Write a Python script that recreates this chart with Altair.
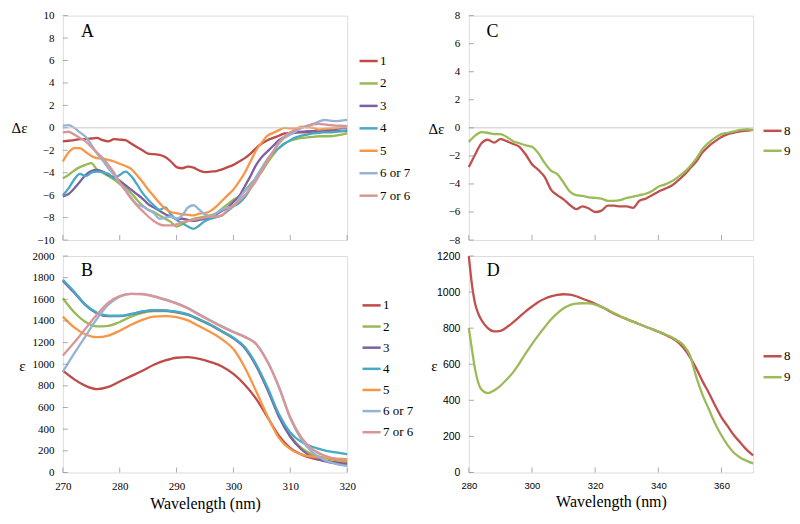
import altair as alt
import pandas as pd

# ---------------- Panel A : CD (delta epsilon), 270-320 nm, 1 nm steps
wl_a = list(range(270, 321))
cd_1 = [-1.2, -1.15, -1.1, -1.0, -1.0, -0.95, -0.9, -1.1, -1.2, -1.0,
        -1.05, -1.1, -1.4, -1.7, -2.0, -2.3, -2.35, -2.4, -2.6, -3.0,
        -3.5, -3.6, -3.45, -3.55, -3.8, -3.95, -3.9, -3.85, -3.7, -3.5,
        -3.3, -3.0, -2.7, -2.3, -1.8, -1.4, -1.1, -0.9, -0.7, -0.5,
        -0.45, -0.4, -0.4, -0.4, -0.4, -0.35, -0.35, -0.3, -0.3, -0.3,
        -0.3]
cd_2 = [-4.5, -4.2, -3.8, -3.5, -3.3, -3.15, -3.7, -4.0, -4.3, -4.6,
        -5.0, -5.3, -5.8, -6.4, -6.9, -7.3, -7.5, -7.8, -8.1, -8.4,
        -8.8, -8.6, -8.3, -8.1, -8.0, -7.9, -7.8, -7.6, -7.2, -6.8,
        -6.4, -6.1, -5.6, -5.0, -4.5, -3.9, -3.1, -2.4, -1.8, -1.4,
        -1.15, -1.0, -0.9, -0.85, -0.8, -0.75, -0.75, -0.75, -0.7, -0.6,
        -0.5]
cd_3 = [-6.1, -5.9, -5.4, -4.8, -4.2, -3.85, -3.75, -3.9, -4.2, -4.4,
        -4.7, -5.1, -5.5, -5.9, -6.3, -6.8, -7.1, -7.4, -7.7, -7.9,
        -8.1, -8.1, -8.2, -8.3, -8.2, -8.1, -8.0, -7.7, -7.4, -7.1,
        -6.6, -6.1, -5.2, -4.3, -3.3, -2.6, -2.1, -1.6, -1.1, -0.8,
        -0.55, -0.4, -0.35, -0.3, -0.3, -0.25, -0.2, -0.15, -0.1, -0.05,
        0.0]
cd_4 = [-6.0, -5.4, -4.6, -4.1, -4.3, -4.0, -3.9, -3.95, -4.1, -4.5,
        -4.2, -3.9, -4.3, -5.0, -5.8, -6.4, -6.9, -7.3, -7.1, -7.7,
        -8.2, -8.5, -8.8, -9.0, -8.7, -8.3, -8.1, -7.95, -7.8, -7.4,
        -7.0, -6.7, -6.2, -5.4, -4.4, -3.6, -2.8, -2.2, -1.8, -1.4,
        -1.1, -0.85, -0.7, -0.6, -0.5, -0.45, -0.4, -0.4, -0.35, -0.3,
        -0.2]
cd_5 = [-3.0, -2.2, -1.8, -1.8, -2.15, -2.5, -2.7, -2.75, -2.85, -3.0,
        -3.2, -3.4, -3.65, -4.2, -4.8, -5.5, -6.1, -6.7, -7.2, -7.5,
        -7.6, -7.7, -7.75, -7.8, -7.65, -7.6, -7.4, -7.0, -6.5, -6.0,
        -5.5, -4.8, -4.0, -3.0, -2.0, -1.3, -0.7, -0.45, -0.2, 0.0,
        -0.05, -0.05, 0.1, 0.05, 0.0, -0.15, -0.1, -0.05, 0.0, 0.1,
        0.15]
cd_6 = [0.2, 0.25, 0.0, -0.4, -0.8, -1.5, -2.3, -2.9, -3.6, -4.2,
        -4.9, -5.5, -6.2, -6.8, -7.0, -7.3, -7.6, -8.1, -8.0, -7.9,
        -8.1, -7.8, -7.1, -6.9, -7.3, -7.7, -7.9, -7.6, -7.3, -7.1,
        -7.0, -6.3, -5.6, -5.2, -4.4, -3.6, -2.8, -2.1, -1.4, -0.9,
        -0.6, -0.3, 0.0, 0.2, 0.35, 0.55, 0.7, 0.65, 0.6, 0.65,
        0.7]
cd_7 = [-0.4, -0.35, -0.6, -0.9, -1.2, -1.7, -2.2, -2.7, -3.3, -4.0,
        -4.9, -5.6, -6.3, -6.9, -7.4, -7.9, -8.3, -8.6, -8.7, -8.7,
        -8.6, -8.4, -8.3, -8.2, -8.1, -8.0, -7.9, -7.9, -7.8, -7.3,
        -6.9, -6.5, -6.0, -5.4, -4.7, -3.8, -2.9, -2.1, -1.3, -0.75,
        -0.4, -0.15, 0.0, 0.15, 0.3, 0.35, 0.3, 0.25, 0.2, 0.2,
        0.15]

# ---------------- Panel B : UV (epsilon), 270-320 nm, 2 nm steps
wl_b = list(range(270, 321, 2))
uv_1 = [940, 860, 800, 770, 790, 840, 890, 940, 995, 1035, 1060, 1065, 1050,
        1020, 980, 910, 810, 680, 510, 340, 225, 165, 130, 110, 95, 85]
uv_2 = [1610, 1480, 1390, 1350, 1355, 1390, 1440, 1475, 1490, 1492, 1478, 1455, 1410,
        1360, 1300, 1240, 1150, 990, 770, 520, 340, 225, 165, 135, 115, 100]
uv_3 = [1770, 1660, 1545, 1470, 1445, 1445, 1462, 1485, 1497, 1495, 1482, 1458, 1412,
        1362, 1302, 1240, 1150, 985, 765, 515, 330, 210, 140, 105, 85, 75]
uv_4 = [1780, 1670, 1550, 1475, 1450, 1448, 1465, 1488, 1500, 1498, 1485, 1460, 1415,
        1365, 1305, 1245, 1160, 1000, 785, 540, 370, 280, 235, 205, 185, 170]
uv_5 = [1440, 1340, 1275, 1250, 1265, 1310, 1365, 1410, 1440, 1445, 1435, 1405, 1350,
        1295, 1230, 1140, 970, 750, 520, 320, 215, 165, 145, 135, 128, 122]
uv_6 = [930, 1100, 1260, 1420, 1550, 1625, 1650, 1650, 1630, 1600, 1565, 1520, 1462,
        1405, 1350, 1300, 1255, 1190, 1025, 790, 500, 300, 180, 115, 80, 60]
uv_7 = [1080, 1200, 1330, 1460, 1570, 1630, 1650, 1645, 1625, 1595, 1560, 1515, 1455,
        1400, 1345, 1295, 1250, 1185, 1020, 790, 510, 320, 210, 155, 125, 110]

names_ab = ["1", "2", "3", "4", "5", "6 or 7", "7 or 6"]
colors_ab = ["#BE4B48", "#98B954", "#7D60A0", "#46AAC4", "#F79646", "#95B3D7", "#D99694"]

# ---------------- Panel C : CD, 280-370 nm, 2 nm steps
wl_c = list(range(280, 371, 2))
cd_8 = [-2.8, -1.9, -1.1, -0.85, -1.05, -0.8, -0.95, -1.15, -1.35, -1.9,
        -2.6, -3.0, -3.5, -4.4, -4.8, -5.1, -5.5, -5.8, -5.6, -5.75,
        -6.0, -5.9, -5.55, -5.55, -5.6, -5.6, -5.7, -5.2, -5.05, -4.8,
        -4.55, -4.35, -4.15, -3.8, -3.4, -2.9, -2.4, -1.75, -1.3, -0.95,
        -0.65, -0.45, -0.35, -0.25, -0.2, -0.15]
cd_9 = [-1.0, -0.55, -0.3, -0.35, -0.45, -0.45, -0.65, -0.95, -1.1, -1.25,
        -1.35, -1.8, -2.5, -3.05, -3.3, -3.9, -4.55, -4.8, -4.85, -4.95,
        -5.0, -5.05, -5.2, -5.2, -5.15, -5.0, -4.9, -4.8, -4.7, -4.5,
        -4.2, -4.05, -3.85, -3.55, -3.2, -2.75, -2.2, -1.5, -1.05, -0.7,
        -0.45, -0.35, -0.25, -0.15, -0.1, -0.15]

# ---------------- Panel D : UV, 280-370 nm
wl_d = [280, 281, 282, 283, 284] + list(range(286, 371, 2))
uv_8 = [1200, 1040, 935, 880, 845,
        800, 782, 785, 805, 832, 862, 893, 920, 945, 963,
        976, 984, 988, 986, 977, 963, 950, 935, 918, 900,
        880, 865, 850, 836, 822, 808, 795, 780, 765, 748,
        725, 690, 640, 577, 505, 441, 370, 305, 255, 205,
        165, 125, 95]
uv_9 = [800, 680, 570, 497, 460,
        440, 455, 480, 515, 555, 605, 660, 712, 760, 805,
        848, 882, 910, 928, 936, 938, 937, 930, 918, 902,
        884, 866, 850, 836, 822, 808, 795, 782, 768, 752,
        732, 705, 650, 530, 430, 350, 270, 205, 150, 108,
        82, 64, 50]

names_cd = ["8", "9"]
colors_cd = ["#C0504D", "#9BBB59"]

# tick values
xt_ab = [270, 280, 290, 300, 310, 320]
yt_a = [-10, -8, -6, -4, -2, 0, 2, 4, 6, 8, 10]
yt_b = [0, 200, 400, 600, 800, 1000, 1200, 1400, 1600, 1800, 2000]
xt_cd = [280, 300, 320, 340, 360]
yt_c = [-8, -6, -4, -2, 0, 2, 4, 6, 8]
yt_d = [0, 200, 400, 600, 800, 1000, 1200]

SERIF = "Liberation Serif, Times New Roman, serif"
SANS = "Liberation Sans, Arial, sans-serif"
FRAME = "#868686"


def long_df(x, series, names):
    rows = []
    for n, vals in zip(names, series):
        for xi, v in zip(x, vals):
            rows.append({"wl": xi, "val": v, "cpd": n})
    return pd.DataFrame(rows)


def panel(df, names, colors, xdom, xticks, ydom, yticks, letter, letter_at,
          ytitle, title_xy, show_x, xfont, xsize, yfont, ysize, leg_xy, row_pad,
          w, h, zero, interp):
    xscale = alt.Scale(domain=xdom, nice=False, zero=False)
    yscale = alt.Scale(domain=ydom, nice=False, zero=False)
    if show_x:
        xaxis = alt.Axis(values=xticks, ticks=False, domain=False, grid=False,
                         labelFont=xfont, labelFontSize=xsize, labelColor="#000",
                         labelPadding=8, labelFlush=False, labelOverlap=False,
                         format="d",
                         title="Wavelength (nm)", titleFont=SERIF, titleFontSize=16,
                         titleFontWeight="normal", titleColor="#000", titlePadding=4)
    else:
        xaxis = None
    yaxis = alt.Axis(values=yticks, ticks=False, domain=False, grid=False,
                     labelFont=yfont, labelFontSize=ysize, labelColor="#000",
                     labelPadding=9, labelFlush=False, labelOverlap=False,
                     format="d",
                     title=ytitle, titleFont=SERIF, titleFontSize=15,
                     titleFontWeight="normal", titleColor="#000", titleAngle=0,
                     titleAlign="center", titleBaseline="middle",
                     titleX=title_xy[0], titleY=title_xy[1])

    def X(field="wl"):
        return alt.X(f"{field}:Q", scale=xscale, axis=xaxis)

    def Y(field="val"):
        return alt.Y(f"{field}:Q", scale=yscale, axis=yaxis)

    lines = alt.Chart(df).mark_line(strokeWidth=2.3, interpolate=interp).encode(
        x=X(), y=Y(),
        color=alt.Color("cpd:N", scale=alt.Scale(domain=names, range=colors),
                        sort=names,
                        legend=alt.Legend(title=None, orient="none",
                                          legendX=leg_xy[0], legendY=leg_xy[1],
                                          symbolType="stroke", symbolStrokeWidth=2.5,
                                          symbolSize=330, labelFont=SERIF,
                                          labelFontSize=13, labelColor="#000",
                                          labelOffset=1, rowPadding=row_pad,
                                          padding=0)),
        order=alt.Order("wl:Q"),
    )
    layers = [lines]
    if zero:
        layers.append(alt.Chart(pd.DataFrame({"val": [0]})).mark_rule(
            color="#C8C8C8", strokeWidth=1).encode(y=Y()))
    xt = alt.Chart(pd.DataFrame({"wl": xticks})).mark_tick(
        color=FRAME, thickness=1, size=5).encode(x=X(), y=alt.value(h - 2.5))
    yt = alt.Chart(pd.DataFrame({"val": yticks})).mark_tick(
        color=FRAME, thickness=1, size=5).encode(y=Y(), x=alt.value(2.5))
    lab = alt.Chart(pd.DataFrame({"wl": [letter_at[0]], "val": [letter_at[1]],
                                  "lab": [letter]})).mark_text(
        font=SERIF, fontSize=18, align="left", baseline="middle", color="#000").encode(
        x=X(), y=Y(), text="lab:N")
    layers += [xt, yt, lab]
    return alt.layer(*layers).properties(width=w, height=h)


df_a = long_df(wl_a, [cd_1, cd_2, cd_3, cd_4, cd_5, cd_6, cd_7], names_ab)
df_b = long_df(wl_b, [uv_1, uv_2, uv_3, uv_4, uv_5, uv_6, uv_7], names_ab)
df_c = long_df(wl_c, [cd_8, cd_9], names_cd)
df_d = long_df(wl_d, [uv_8, uv_9], names_cd)

W = 285
HA = 225
HB = 217

pA = panel(df_a, names_ab, colors_ab, [270, 320], xt_ab, [-10, 10], yt_a, "A", (273.2, 8.55),
           "Δε", (-44, 112), False, SERIF, 11, SERIF, 11, (296, 35), 4.5, W, HA, True, "monotone")
pB = panel(df_b, names_ab, colors_ab, [270, 320], xt_ab, [0, 2000], yt_b, "B", (273.2, 1860),
           "ε", (-41, 110), True, SERIF, 11, SERIF, 11, (299, 39), 3.2, W, HB, False, "monotone")
pC = panel(df_c, names_cd, colors_cd, [280, 370], xt_cd, [-8, 8], yt_c, "C", (285.6, 6.8),
           "Δε", (-33, 113), False, SERIF, 11, SERIF, 11, (294, 105), 2, W, HA, True, "monotone")
pD = panel(df_d, names_cd, colors_cd, [280, 370], xt_cd, [0, 1200], yt_d, "D", (285.7, 1118),
           "ε", (-35, 110), True, SANS, 9.5, SANS, 10.5, (294, 90), 3, W, HB, False, "monotone")

chart = alt.concat(
    pA, pC, pB, pD, columns=2, spacing={"row": 16, "column": 122}, bounds="flush"
).resolve_scale(
    color="independent", x="independent", y="independent"
).properties(
    padding={"left": 2, "top": 0, "right": 0, "bottom": 0}
).configure_view(
    stroke=FRAME, strokeWidth=1.2
).configure(background="white")

chart.save("out.html", embed_options={"renderer": "svg", "actions": False})
